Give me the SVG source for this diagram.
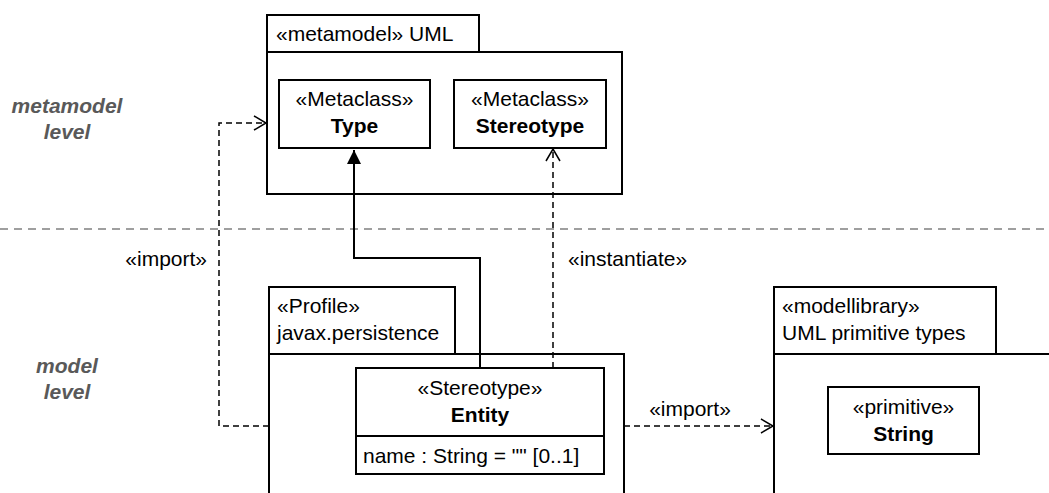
<svg xmlns="http://www.w3.org/2000/svg" width="1049" height="493" viewBox="0 0 1049 493">
<style>
text{font-family:"Liberation Sans",Arial,sans-serif;font-size:21px;fill:#000}
.b{font-weight:bold}
.c{text-anchor:middle}
.lvl{font-weight:bold;font-style:italic;fill:#595959;text-anchor:middle}
.box{fill:#fff;stroke:#000;stroke-width:2}
.pk{fill:none;stroke:#000;stroke-width:2}
.dash{fill:none;stroke:#000;stroke-width:1.5;stroke-dasharray:6 4}
.solid{fill:none;stroke:#000;stroke-width:2}
</style>
<defs>
<marker id="open" markerWidth="16" markerHeight="16" refX="14" refY="8" orient="auto" markerUnits="userSpaceOnUse">
<path d="M2,1 L14,8 L2,15" fill="none" stroke="#000" stroke-width="1.5"/>
</marker>
<marker id="fill" markerWidth="16" markerHeight="16" refX="14" refY="8" orient="auto" markerUnits="userSpaceOnUse">
<path d="M0,1 L14,8 L0,15 Z" fill="#000" stroke="none"/>
</marker>
</defs>
<line x1="0" y1="229" x2="1049" y2="229" stroke="#808080" stroke-width="1.5" stroke-dasharray="8 6"/>
<g id="lvl-meta"><text class="lvl" x="67" y="113">metamodel</text><text class="lvl" x="67" y="139">level</text></g>
<g id="lvl-model"><text class="lvl" x="67" y="373">model</text><text class="lvl" x="67" y="399">level</text></g>
<g id="pkg-uml">
<rect class="pk" x="267" y="15" width="212" height="37"/>
<rect class="pk" x="267" y="52" width="355" height="142"/>
<text x="276" y="41">«metamodel» UML</text>
</g>
<g id="type">
<rect class="box" x="279" y="80" width="151" height="68"/>
<text class="c" x="354.5" y="106">«Metaclass»</text>
<text class="c b" x="354.5" y="133">Type</text>
</g>
<g id="stereotype">
<rect class="box" x="454" y="80" width="152" height="68"/>
<text class="c" x="530" y="106">«Metaclass»</text>
<text class="c b" x="530" y="133">Stereotype</text>
</g>
<g id="pkg-profile">
<rect class="pk" x="269" y="287" width="186" height="67"/>
<path class="pk" d="M269,493 V354 H624 V493"/>
<text x="277" y="313">«Profile»</text>
<text x="277" y="340">javax.persistence</text>
</g>
<g id="entity">
<rect class="box" x="356" y="368" width="248" height="106"/>
<line x1="356" y1="436" x2="604" y2="436" stroke="#000" stroke-width="2"/>
<text class="c" x="480" y="395">«Stereotype»</text>
<text class="c b" x="480" y="422">Entity</text>
<text x="363" y="463">name : String = "" [0..1]</text>
</g>
<g id="pkg-lib">
<rect class="pk" x="774" y="287" width="222" height="67"/>
<path class="pk" d="M774,493 V354 H1052"/>
<text x="782" y="313">«modellibrary»</text>
<text x="782" y="340">UML primitive types</text>
</g>
<g id="string">
<rect class="box" x="828" y="387" width="151" height="67"/>
<text class="c" x="903.5" y="414">«primitive»</text>
<text class="c b" x="903.5" y="441">String</text>
</g>
<g id="connectors">
<path class="solid" d="M480,368 V258 H354 V150" marker-end="url(#fill)"/>
<path class="dash" d="M553,368 V149" marker-end="url(#open)"/>
<text x="568" y="266">«instantiate»</text>
<path class="dash" d="M269,426 H219 V123 H266" marker-end="url(#open)"/>
<text x="207" y="266" text-anchor="end">«import»</text>
<path class="dash" d="M624,426 H773" marker-end="url(#open)"/>
<text class="c" x="690" y="416">«import»</text>
</g>
</svg>
